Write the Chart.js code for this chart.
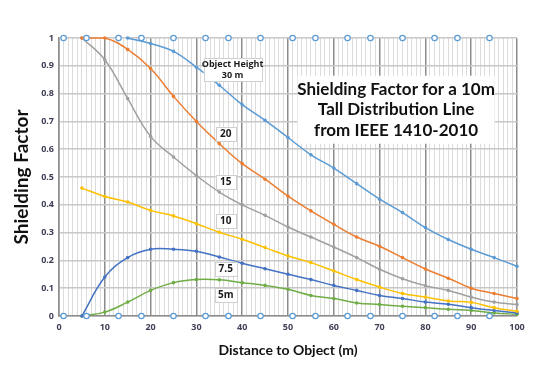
<!DOCTYPE html>
<html>
<head>
<meta charset="utf-8">
<script src="https://cdn.jsdelivr.net/npm/chart.js@4/dist/chart.umd.min.js"></script>
<style>
html,body{margin:0;padding:0;background:#fff;}
#wrap{width:538px;height:380px;position:relative;}
</style>
</head>
<body>
<div id="wrap"><canvas id="c" width="538" height="380"></canvas></div>
<script>
// ---- data ----
const distance = [5,10,15,20,25,30,35,40,45,50,55,60,65,70,75,80,85,90,95,100];
const height30 = [null,null,1.0,0.98,0.952,0.895,0.83,0.76,0.704,0.642,0.58,0.532,0.476,0.42,0.372,0.318,0.275,0.24,0.21,0.179];
const height20 = [1.0,1.0,0.959,0.89,0.79,0.70,0.62,0.548,0.492,0.431,0.378,0.33,0.284,0.251,0.21,0.169,0.136,0.10,0.081,0.063];
const height15 = [1.0,0.922,0.782,0.646,0.572,0.505,0.446,0.40,0.362,0.32,0.284,0.248,0.21,0.168,0.134,0.109,0.092,0.068,0.05,0.041];
const height10 = [0.46,0.43,0.41,0.38,0.36,0.332,0.301,0.276,0.246,0.216,0.192,0.162,0.131,0.104,0.081,0.068,0.054,0.049,0.03,0.017];
const height7_5 = [0,0.14,0.21,0.24,0.24,0.233,0.212,0.19,0.17,0.15,0.131,0.11,0.092,0.074,0.063,0.05,0.042,0.03,0.02,0.011];
const height5 = [0,0.014,0.05,0.092,0.12,0.131,0.13,0.12,0.11,0.096,0.074,0.063,0.047,0.041,0.035,0.03,0.024,0.02,0.011,0.006];
const boundaryX = [1,6,13,18,25,32,37,44,51,56,63,68,75,82,87,94];
const boundaryLow = 0;
const boundaryHigh = 1;
const xTickValues = [0,10,20,30,40,50,60,70,80,90,100];
const yTickValues = [0,0.1,0.2,0.3,0.4,0.5,0.6,0.7,0.8,0.9,1];
const curveLabels = ['Object Height|30 m','20','15','10','7.5','5m'];
const titleLines = ['Shielding Factor for a 10m','Tall Distribution Line','from IEEE 1410-2010'];

// label anchor positions (data units)
const labelAnchors = [
  {x:37.9,y:0.886,w:58,h:23},
  {x:36.4,y:0.655,w:20,h:14},
  {x:36.4,y:0.481,w:20,h:14},
  {x:36.4,y:0.341,w:20,h:14},
  {x:36.4,y:0.170,w:22,h:14},
  {x:36.4,y:0.074,w:22,h:14}
];
const titleAnchor = {x:73.6,y:0.742,w:197,h:68};

function pts(xs, ys){ return xs.map((x,i)=>({x:x,y:ys[i]})).filter(p=>p.y!==null); }

function series(label, ys, color){
  return {
    label: label, data: pts(distance, ys), borderColor: color, backgroundColor: color,
    showLine: true, borderWidth: 1.5, pointRadius: 1.8, pointHoverRadius: 1.8, pointBorderWidth: 0,
    tension: 0.4, clip: false, fill: false
  };
}
function boundary(label, yv){
  return {
    label: label, data: boundaryX.map(x=>({x:x,y:yv})), showLine:false,
    pointStyle:'circle', pointRadius:2.7, pointBorderWidth:1.2,
    borderColor:'#5B9BD5', backgroundColor:'#ffffff', clip:false
  };
}

const tickFont = {family:'"Open Sans", sans-serif', size:9, weight:'bold'};
const tickColor = '#404058';

const annotPlugin = {
  id:'annot',
  afterDatasetsDraw(chart){
    const ctx = chart.ctx, xs = chart.scales.x, ys = chart.scales.y;
    ctx.save();
    labelAnchors.forEach((a,i)=>{
      const cx = xs.getPixelForValue(a.x), cy = ys.getPixelForValue(a.y);
      ctx.fillStyle = '#ffffff';
      ctx.fillRect(cx-a.w/2, cy-a.h/2, a.w, a.h);
      ctx.strokeStyle = '#d0d0d0'; ctx.lineWidth = 1;
      ctx.strokeRect(Math.round(cx-a.w/2)+0.5, Math.round(cy-a.h/2)+0.5, a.w, a.h);
      ctx.fillStyle = '#1a1a1a';
      ctx.textAlign='center'; ctx.textBaseline='middle';
      const lines = curveLabels[i].split('|');
      if (lines.length>1){
        ctx.font = 'bold 9px "Open Sans", sans-serif';
        ctx.fillText(lines[0], cx, cy-5.5);
        ctx.fillText(lines[1], cx, cy+5.5);
      } else {
        ctx.font = 'bold 10px "Open Sans", sans-serif';
        ctx.fillText(lines[0], cx, cy);
      }
    });
    const tx = xs.getPixelForValue(titleAnchor.x), ty = ys.getPixelForValue(titleAnchor.y);
    ctx.fillStyle='#ffffff';
    ctx.fillRect(tx-titleAnchor.w/2, ty-titleAnchor.h/2, titleAnchor.w, titleAnchor.h);
    ctx.fillStyle='#111111';
    ctx.font='bold 17px Lato, sans-serif';
    ctx.textAlign='center'; ctx.textBaseline='middle';
    titleLines.forEach((t,i)=>ctx.fillText(t, tx, ty + (i-1)*20.7));
    ctx.restore();
  }
};

new Chart(document.getElementById('c'), {
  type:'scatter',
  data:{datasets:[
    boundary('upper', boundaryHigh),
    boundary('lower', boundaryLow),
    series('30 m', height30, '#5B9BD5'),
    series('20', height20, '#ED7D31'),
    series('15', height15, '#A0A0A0'),
    series('10', height10, '#FFC000'),
    series('7.5', height7_5, '#4472C4'),
    series('5m', height5, '#70AD47')
  ]},
  options:{
    responsive:false, animation:false, events:[],
    layout:{padding:{top:38,right:21,left:0,bottom:0}},
    plugins:{legend:{display:false}, tooltip:{enabled:false}, title:{display:false}},
    scales:{
      x:{
        type:'linear', min:0, max:100,
        afterFit(s){ s.height = 64; },
        afterBuildTicks(s){ const t=[]; for(let v=0; v<=100; v++) t.push({value:v}); s.ticks=t; },
        ticks:{ autoSkip:false, maxRotation:0, padding:6, color:tickColor, font:tickFont,
          callback:(v)=> xTickValues.includes(v) ? String(v) : '' },
        grid:{ drawTicks:false,
          color:(c)=> (c.tick && c.tick.value%10===0) ? '#8c8c8c' : '#dcdcdc',
          lineWidth:(c)=> (c.tick && c.tick.value%10===0) ? 1.5 : 1 },
        border:{display:true, color:'#8c8c8c', width:1.5},
        title:{display:true, text:'Distance to Object (m)', color:'#111',
          font:{family:'Lato, sans-serif', size:14, weight:'bold', lineHeight:1.2}, padding:{top:0,bottom:21.5}}
      },
      y:{
        min:0, max:1,
        afterFit(s){ s.width = 59; },
        afterBuildTicks(s){ s.ticks = yTickValues.map(v=>({value:v})); },
        ticks:{ padding:5, color:tickColor, font:tickFont,
          callback:(v)=> String(+Number(v).toFixed(1)) },
        grid:{ drawTicks:false, color:'#c8c8c8', lineWidth:1.5 },
        border:{display:true, color:'#8c8c8c', width:1.5},
        title:{display:true, text:'Shielding Factor', color:'#111',
          font:{family:'Lato, sans-serif', size:19, weight:'bold', lineHeight:1.2}, padding:{top:10.5,bottom:0}}
      }
    }
  },
  plugins:[annotPlugin]
});
</script>
</body>
</html>
